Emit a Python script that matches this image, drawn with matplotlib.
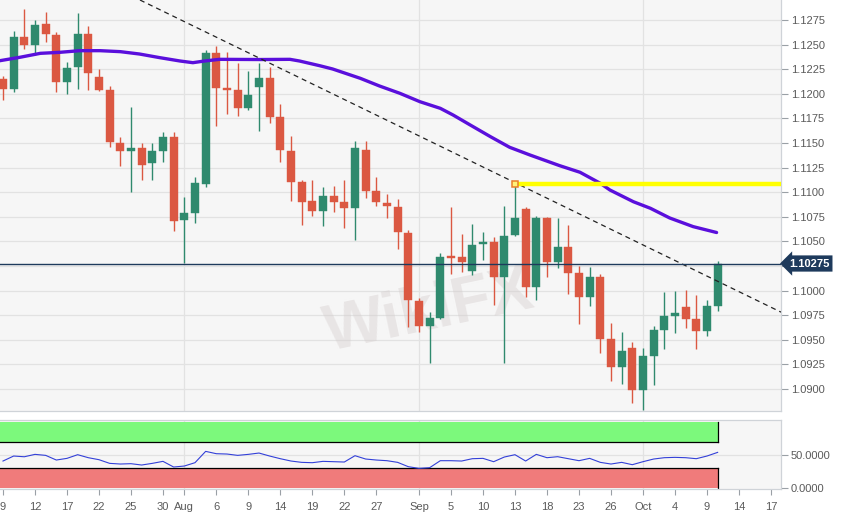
import matplotlib
matplotlib.use("Agg")
import matplotlib.pyplot as plt
import numpy as np

plt.rcParams['font.family'] = ['Liberation Sans', 'DejaVu Sans']

# ---------------- data ----------------
opens = [1.12150, 1.12050, 1.12580, 1.12500, 1.12709, 1.12597, 1.12120, 1.12275, 1.12610, 1.12170,
         1.12040, 1.11503, 1.11421, 1.11446, 1.11293, 1.11421, 1.11564, 1.10717, 1.10791, 1.11080,
         1.12411, 1.12045, 1.12038, 1.11858, 1.12072, 1.12157, 1.11761, 1.11421, 1.11106, 1.10913,
         1.10812, 1.10964, 1.10900, 1.10836, 1.11429, 1.11012, 1.10890, 1.10852, 1.10588, 1.09897,
         1.09640, 1.09724, 1.10341, 1.10338, 1.10202, 1.10470, 1.10497, 1.10135, 1.10562, 1.10830,
         1.10033, 1.10734, 1.10293, 1.10440, 1.10182, 1.09938, 1.10133, 1.09508, 1.09226, 1.09413,
         1.08989, 1.09338, 1.09599, 1.09745, 1.09830, 1.09711, 1.09592, 1.09843]
highs = [1.12181, 1.12641, 1.12858, 1.12750, 1.12834, 1.12631, 1.12326, 1.12818, 1.12689, 1.12249,
         1.12079, 1.11564, 1.11869, 1.11503, 1.11503, 1.11608, 1.11615, 1.10954, 1.11157, 1.12445,
         1.12489, 1.12421, 1.12316, 1.12231, 1.12310, 1.12275, 1.11899, 1.11574, 1.11124, 1.11124,
         1.11056, 1.11066, 1.11124, 1.11523, 1.11523, 1.11157, 1.10978, 1.10928, 1.10616, 1.09927,
         1.09785, 1.10379, 1.10846, 1.10572, 1.10673, 1.10592, 1.10547, 1.10862, 1.11073, 1.10846,
         1.10758, 1.10745, 1.10734, 1.10666, 1.10253, 1.10236, 1.10165, 1.09667, 1.09582, 1.09474,
         1.09419, 1.09643, 1.09988, 1.09999, 1.10006, 1.09955, 1.09904, 1.10303]
lows = [1.11937, 1.12015, 1.12452, 1.12394, 1.12529, 1.12021, 1.11998, 1.12045, 1.12038, 1.12031,
        1.11462, 1.11269, 1.11005, 1.11124, 1.11124, 1.11310, 1.10605, 1.10280, 1.10690, 1.11056,
        1.11672, 1.11791, 1.11774, 1.11835, 1.11622, 1.11700, 1.11310, 1.10910, 1.10666, 1.10758,
        1.10656, 1.10802, 1.10633, 1.10514, 1.10938, 1.10860, 1.10734, 1.10422, 1.09633, 1.09576,
        1.09261, 1.09708, 1.10165, 1.10192, 1.10158, 1.10311, 1.09853, 1.09261, 1.10555, 1.09938,
        1.09904, 1.10140, 1.10226, 1.09965, 1.09657, 1.09843, 1.09369, 1.09084, 1.09050, 1.08854,
        1.08786, 1.09040, 1.09403, 1.09566, 1.09616, 1.09403, 1.09541, 1.09795]
closes = [1.12049, 1.12577, 1.12496, 1.12699, 1.12604, 1.12117, 1.12265, 1.12607, 1.12214, 1.12038,
          1.11507, 1.11421, 1.11446, 1.11279, 1.11418, 1.11564, 1.10710, 1.10785, 1.11090, 1.12417,
          1.12056, 1.12041, 1.11858, 1.11988, 1.12157, 1.11767, 1.11429, 1.11106, 1.10903, 1.10812,
          1.10964, 1.10903, 1.10836, 1.11446, 1.11015, 1.10897, 1.10860, 1.10592, 1.09904, 1.09640,
          1.09724, 1.10344, 1.10336, 1.10290, 1.10466, 1.10497, 1.10135, 1.10555, 1.10734, 1.10033,
          1.10734, 1.10293, 1.10440, 1.10182, 1.09938, 1.10133, 1.09508, 1.09220, 1.09389, 1.08989,
          1.09335, 1.09599, 1.09742, 1.09775, 1.09711, 1.09592, 1.09843, 1.10275]

# moving average (trading-day position, price)
ma_idx = [-0.3, 1.6, 3.5, 5.3, 7.2, 9.1, 11.0, 12.8, 14.7, 16.6, 17.8, 18.9, 20.3, 24.1, 26.9,
          27.8, 29.7, 30.9, 33.5, 35.3, 37.2, 39.1, 41.0, 42.2, 43.8, 45.7, 47.5, 49.4, 52.2,
          54.1, 56.0, 56.9, 59.1, 60.7, 62.5, 64.7, 66.9]
ma_vals = [1.12336, 1.12371, 1.12411, 1.12421, 1.12438, 1.12438, 1.12428, 1.12404, 1.12367,
           1.12333, 1.12316, 1.12333, 1.12350, 1.12348, 1.12350, 1.12333, 1.12285, 1.12252,
           1.12157, 1.12079, 1.12005, 1.11919, 1.11852, 1.11784, 1.11683, 1.11564, 1.11456,
           1.11378, 1.11269, 1.11202, 1.11090, 1.11022, 1.10903, 1.10836, 1.10738, 1.10650,
           1.10590]

rsi_vals = [41.0, 48.5, 47.4, 51.0, 49.5, 42.5, 45.0, 50.5, 46.0, 43.0,
            37.5, 36.5, 37.0, 35.0, 37.5, 40.5, 32.0, 33.5, 38.5, 55.5,
            52.0, 51.5, 49.5, 51.0, 53.0, 48.5, 44.5, 41.0, 39.0, 38.5,
            40.5, 40.0, 39.5, 49.0, 44.0, 42.5, 41.5, 39.0, 32.5, 30.0,
            31.0, 41.5, 41.5, 41.0, 44.5, 45.0, 40.0, 47.0, 50.5, 41.0,
            51.0, 46.0, 47.5, 44.5, 41.5, 45.0, 39.0, 36.5, 39.0, 35.5,
            40.0, 44.0, 46.0, 46.5, 46.0, 44.5, 48.5, 54.0]

trend_pts = [(10, 1.13103), (70, 1.09936)]
resist_level = 1.1108
resist_start = 48
last_price = 1.10275
last_label = "1.10275"

tick_pos = [0, 3, 6, 9, 12, 15, 17, 20, 23, 26, 29, 32, 35, 39, 42, 45, 48, 51, 54, 57, 60, 63, 66, 69, 72]
tick_labels = ['9', '12', '17', '22', '25', '30', 'Aug', '6', '9', '14', '19', '22', '27', 'Sep',
               '5', '10', '13', '18', '23', '26', 'Oct', '4', '9', '14', '17']
month_pos = [17, 39, 60]
price_ticks = [1.0900, 1.0925, 1.0950, 1.0975, 1.1000, 1.1025, 1.1050, 1.1075, 1.1100,
               1.1125, 1.1150, 1.1175, 1.1200, 1.1225, 1.1250, 1.1275]

# ---------------- figure ----------------
W, H = 841, 518
fig = plt.figure(figsize=(W / 100, H / 100), dpi=100, facecolor='white')
ax = fig.add_axes([0, 1 - 411 / H, 781 / W, 411 / H])
ax2 = fig.add_axes([0, 1 - 489 / H, 781 / W, 69 / H], sharex=ax)

bg = '#f6f6f6'
grid_c = '#e2e2e2'
spine_c = '#cfd3d8'
txt_c = '#5a5a5a'
green = '#2f8a6e'
red = '#db5842'

for a in (ax, ax2):
    a.set_facecolor(bg)
    for s in ['left', 'top', 'right', 'bottom']:
        a.spines[s].set_color(spine_c)
        a.spines[s].set_linewidth(0.9)
    a.spines['left'].set_visible(False)

ax.spines['top'].set_visible(False)

n = len(opens)
idx = np.arange(n)
o = np.array(opens); h = np.array(highs); l = np.array(lows); c = np.array(closes)
up = c >= o
cols = np.where(up, green, red)

ax.set_xlim(-0.28, 72.94)
ax.set_ylim(1.08776, 1.12953)

# grid
for p in price_ticks:
    ax.axhline(p, color=grid_c, lw=0.9, zorder=0)
for m in month_pos:
    ax.axvline(m, color=grid_c, lw=0.9, zorder=0)
    ax2.axvline(m, color=grid_c, lw=0.9, zorder=0)

# watermark
ax.text(0.55, 0.24, 'WikiFX', transform=ax.transAxes, fontsize=46, fontweight='bold',
        color='#d4cccc', alpha=0.4, rotation=12, ha='center', va='center', zorder=0.5)

# candles
ax.vlines(idx, l, h, colors=cols, lw=1.0, zorder=2)
body = np.maximum(np.abs(c - o), 0.00015)
bottom = np.minimum(o, c)
ax.bar(idx, body, bottom=bottom, width=0.74, color=cols, edgecolor=cols, lw=0.3, zorder=3)

# moving average
ax.plot(ma_idx, ma_vals, color='#5a0fdc', lw=2.4, solid_capstyle='round',
        solid_joinstyle='round', zorder=4)

# trend line
ax.axline(trend_pts[0], trend_pts[1], color='#222222', lw=0.9, ls=(0, (4, 3.2)), zorder=4)

# resistance line
ax.hlines(resist_level, resist_start, 72.94, color='#ffff00', lw=3.2, zorder=4)
ax.plot([resist_start], [resist_level], marker='s', ms=4.2, mfc='#fff27a', mec='#e8802a',
        mew=1.1, zorder=5)

# last price line and label
ax.axhline(last_price, color='#1e3a5c', lw=1.0, zorder=4)
ax.text(789 / 781, last_price, last_label, transform=ax.get_yaxis_transform(),
        ha='left', va='center', color='white', fontsize=8, fontweight='bold',
        bbox=dict(boxstyle='larrow,pad=0.28', fc='#1e3a5c', ec='none'),
        clip_on=False, zorder=10)

# axes ticks (the 1.1025 label sits under the last-price tag)
ax.yaxis.tick_right()
ax.set_yticks(price_ticks)
ax.set_yticklabels(['' if abs(p - last_price) < 0.001 else '%.4f' % p for p in price_ticks])
ax.tick_params(axis='y', direction='out', length=5, width=0.8, color='#9aa0a6',
               labelsize=8, labelcolor=txt_c, pad=2)
ax.tick_params(axis='x', bottom=False, labelbottom=False)

# ---------------- lower panel ----------------
ax2.set_ylim(-1, 102.6)
xb = [-1, n - 1]
ax2.fill_between(xb, 70, 100, color='#7cf97c', lw=0, zorder=1)
ax2.fill_between(xb, 0, 30, color='#f07b7b', lw=0, zorder=1)
ax2.axhline(50, color=grid_c, lw=0.9, zorder=0)
ax2.plot(xb, [70, 70], color='black', lw=0.9, zorder=2)
ax2.plot(xb, [30, 30], color='black', lw=0.9, zorder=2)
ax2.plot([n - 1, n - 1], [70, 100], color='black', lw=0.9, zorder=2)
ax2.plot([n - 1, n - 1], [0, 30], color='black', lw=0.9, zorder=2)
ax2.plot(idx, rsi_vals, color='#3340d8', lw=0.8, zorder=3)

ax2.yaxis.tick_right()
ax2.set_yticks([0, 50])
ax2.set_yticklabels(['0.0000', '50.0000'])
ax2.tick_params(axis='y', direction='out', length=5, width=0.8, color='#9aa0a6',
                labelsize=8, labelcolor=txt_c, pad=2)
ax2.set_xticks(tick_pos)
ax2.set_xticklabels(tick_labels)
ax2.tick_params(axis='x', direction='out', length=4, width=0.8, color='#9aa0a6',
                labelsize=8, labelcolor=txt_c, pad=5)

fig.savefig('out.png', dpi=100, facecolor='white')
